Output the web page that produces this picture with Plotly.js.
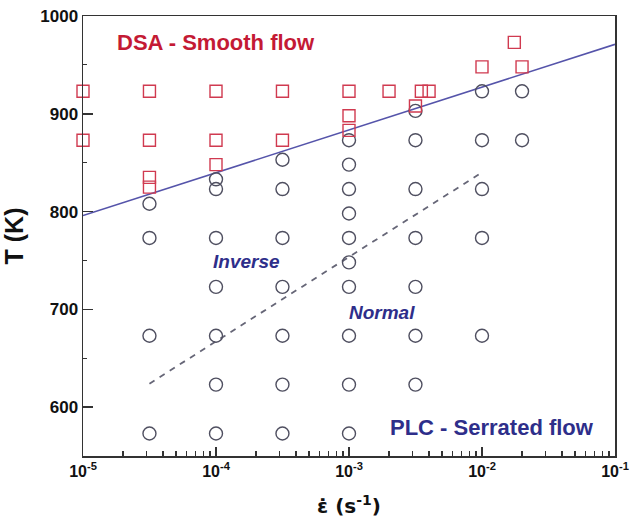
<!DOCTYPE html>
<html>
<head>
<meta charset="utf-8">
<script src="https://cdn.plot.ly/plotly-3.0.1.min.js"></script>
<style>html,body{margin:0;padding:0;background:#fff;}#chart{width:630px;height:524px;}</style>
</head>
<body>
<div id="chart"></div>
<script>
// PLC (serrated flow) test points: strain rate (s^-1) and temperature (K)
var plcRate = [3.16e-5,3.16e-5,3.16e-5,3.16e-5,
  1e-4,1e-4,1e-4,1e-4,1e-4,1e-4,1e-4,
  3.16e-4,3.16e-4,3.16e-4,3.16e-4,3.16e-4,3.16e-4,3.16e-4,
  1e-3,1e-3,1e-3,1e-3,1e-3,1e-3,1e-3,1e-3,1e-3,1e-3,
  3.16e-3,3.16e-3,3.16e-3,3.16e-3,3.16e-3,3.16e-3,3.16e-3,
  1e-2,1e-2,1e-2,1e-2,1e-2,
  2e-2,2e-2];
var plcTemp = [808,773,673,573,
  833,823,773,723,673,623,573,
  853,823,773,723,673,623,573,
  873,848,823,798,773,748,723,673,623,573,
  903,873,823,773,723,673,623,
  923,873,823,773,673,
  923,873];

// DSA (smooth flow) test points
var dsaRate = [1e-5,1e-5,
  3.16e-5,3.16e-5,3.16e-5,3.16e-5,
  1e-4,1e-4,1e-4,
  3.16e-4,3.16e-4,
  1e-3,1e-3,1e-3,
  2e-3,3.16e-3,3.5e-3,4e-3,
  1e-2,1.75e-2,2e-2];
var dsaTemp = [923,873,
  923,873,835,825,
  923,873,848,
  923,873,
  923,898,883,
  923,908,923,923,
  948,973,948];

// DSA / PLC boundary line
var boundRate = [1e-5, 1e-1];
var boundTemp = [796, 971];

// Inverse / Normal boundary (dashed)
var invRate = [3.16e-5, 1e-2];
var invTemp = [624, 840];

var xTickVals = [1e-5,1e-4,1e-3,1e-2,1e-1];
var xTickText = ['10<sup>-5</sup>','10<sup>-4</sup>','10<sup>-3</sup>','10<sup>-2</sup>','10<sup>-1</sup>'];
var xMinorVals = [];
[1e-5,1e-4,1e-3,1e-2].forEach(function(d){ for (var k=2;k<=9;k++) xMinorVals.push(d*k); });

var FONT = 'Liberation Sans, Arial, sans-serif';
var BLUE = '#2e2e8a';
var RED = '#c41a34';
var AX = '#333333';

var traces = [
  {x: boundRate, y: boundTemp, mode: 'lines', line: {color: '#5554aa', width: 1.6}, hoverinfo: 'skip'},
  {x: invRate, y: invTemp, mode: 'lines', line: {color: '#666677', width: 1.8, dash: '6px,6px'}, hoverinfo: 'skip'},
  {x: plcRate, y: plcTemp, mode: 'markers', cliponaxis: false, marker: {symbol: 'circle-open', size: 13, color: '#4f4f60', line: {width: 1.4}}},
  {x: dsaRate, y: dsaTemp, mode: 'markers', cliponaxis: false, marker: {symbol: 'square-open', size: 12, color: '#d03a50', line: {width: 1.4}}}
];

var layout = {
  width: 630, height: 524,
  margin: {l: 83, r: 15, t: 16, b: 68},
  paper_bgcolor: '#ffffff', plot_bgcolor: '#ffffff',
  showlegend: false,
  xaxis: {
    type: 'log', range: [-5, -1],
    tickvals: xTickVals, ticktext: xTickText,
    ticks: 'inside', ticklen: 9, tickwidth: 1.5, tickcolor: AX,
    showline: true, linecolor: AX, linewidth: 1.5, mirror: true,
    showgrid: false, zeroline: false,
    tickfont: {family: FONT, size: 16, color: '#111', weight: 'bold'},
    minor: {tickvals: xMinorVals, ticks: 'inside', ticklen: 5, tickwidth: 1.2, tickcolor: AX, showgrid: false},
    title: {text: '<b>\u025B\u0307 (s<sup>-1</sup>)</b>', font: {family: 'DejaVu Sans, sans-serif', size: 20, color: '#111'}, standoff: 20}
  },
  yaxis: {
    range: [550, 1000], tick0: 0, dtick: 100,
    ticks: 'inside', ticklen: 10, tickwidth: 1.5, tickcolor: AX,
    showline: true, linecolor: AX, linewidth: 1.5, mirror: true,
    showgrid: false, zeroline: false,
    tickfont: {family: FONT, size: 17, color: '#111', weight: 'bold'},
    minor: {dtick: 50, ticks: 'inside', ticklen: 4, tickwidth: 1.2, tickcolor: AX, showgrid: false},
    title: {text: '<b>T (K)</b>', font: {family: FONT, size: 25, color: '#111'}, standoff: 10}
  },
  annotations: [
    {xref: 'paper', yref: 'paper', x: 0.25, y: 0.939, text: '<b>DSA - Smooth flow</b>', showarrow: false,
     font: {family: FONT, size: 22, color: RED}, xanchor: 'center', yanchor: 'middle'},
    {xref: 'paper', yref: 'paper', x: 0.769, y: 0.064, text: '<b>PLC - Serrated flow</b>', showarrow: false,
     font: {family: FONT, size: 22, color: BLUE}, xanchor: 'center', yanchor: 'middle'},
    {xref: 'paper', yref: 'paper', x: 0.308, y: 0.441, text: '<b><i>Inverse</i></b>', showarrow: false,
     font: {family: FONT, size: 19, color: BLUE}, xanchor: 'center', yanchor: 'middle'},
    {xref: 'paper', yref: 'paper', x: 0.562, y: 0.327, text: '<b><i>Normal</i></b>', showarrow: false,
     font: {family: FONT, size: 19, color: BLUE}, xanchor: 'center', yanchor: 'middle'}
  ]
};

Plotly.newPlot('chart', traces, layout, {staticPlot: true, displayModeBar: false});
</script>
</body>
</html>
